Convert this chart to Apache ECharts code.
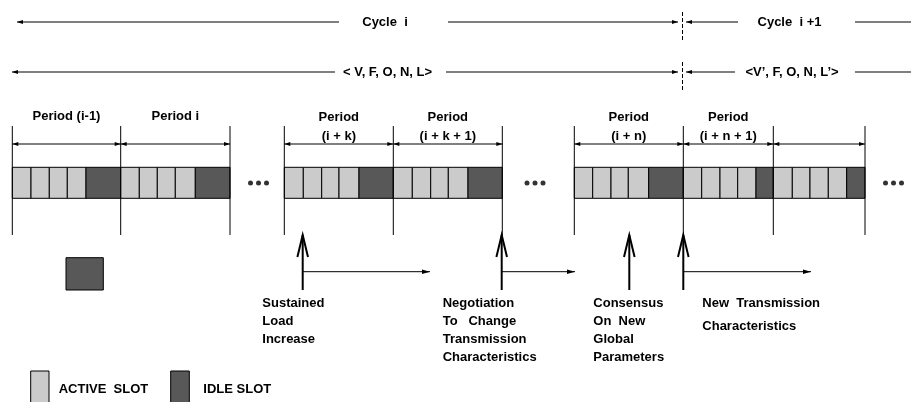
<!DOCTYPE html>
<html>
<head>
<meta charset="utf-8">
<script src="https://cdn.jsdelivr.net/npm/echarts@6/dist/echarts.min.js"></script>
<style>
  html, body { margin: 0; padding: 0; background: #fff; }
  #main { width: 911px; height: 402px; }
</style>
</head>
<body>
<div id="main"></div>
<script>
// slot edges per period: 4 active slots then 1 idle slot
const slotEdges = [
  [12.3, 31, 49.3, 67.3, 86, 120.7],
  [120.7, 139.3, 157.3, 175.3, 195.3, 230],
  [284.3, 303.3, 321.7, 339, 359, 393.3],
  [393.3, 412.3, 430.7, 448.3, 468, 502.3],
  [574.3, 592.7, 611, 628.3, 648.7, 683.3],
  [683.3, 701.7, 720, 737.7, 756, 773.3],
  [773.3, 792.3, 810, 828.3, 846.7, 865]
];
const periodLabels = ['Period (i-1)', 'Period i', 'Period\n(i + k)', 'Period\n(i + k + 1)',
  'Period\n(i + n)', 'Period\n(i + n + 1)', ''];
const ellipsisX = [258.5, 535, 893.5];
const cycleLabels = ['Cycle  i', 'Cycle  i +1'];
const paramLabels = ['< V, F, O, N, L>', '<V\u2019, F, O, N, L\u2019>'];
const eventX = [302.7, 501.7, 629.3, 683.3];
const eventEndX = [430, 575, null, 811];
const eventLabels = ['Sustained\nLoad\nIncrease', 'Negotiation\nTo   Change\nTransmission\nCharacteristics',
  'Consensus\nOn  New\nGlobal\nParameters', 'New  Transmission\nCharacteristics'];
const legendLabels = ['ACTIVE  SLOT', 'IDLE SLOT'];

// layout
const FONT = 'bold 13px "Liberation Sans", Arial, sans-serif';
const activeColor = '#cbcbcb';
const idleColor = '#585858';
const slotTop = 167.3, slotBottom = 198.3;
const periodArrowY = 144;
const boundTop = 126, boundBottom = 235;
const cycleX = 682.5;
// top rows: y, label centre x, segments [from, to, arrowAtEnd]
const topRows = [
  { y: 22, labels: [[385, cycleLabels[0]], [789.5, cycleLabels[1]]],
    segs: [[339, 17, 1], [448, 678, 1], [738, 686, 1], [855, 911, 0]] },
  { y: 72, labels: [[387.5, paramLabels[0]], [792, paramLabels[1]]],
    segs: [[335, 12, 1], [446, 678, 1], [735, 686, 1], [855, 911, 0]] }
];
const eventLabelLayout = [[262.3, 18], [442.7, 18], [593.3, 18], [702.3, 23.7]];

function head(tip, from, len, hw) {
  const dx = tip[0] - from[0], dy = tip[1] - from[1];
  const d = Math.sqrt(dx * dx + dy * dy) || 1;
  const ux = dx / d, uy = dy / d;
  const bx = tip[0] - ux * len, by = tip[1] - uy * len;
  return [tip, [bx - uy * hw, by + ux * hw], [bx + uy * hw, by - ux * hw]];
}
function arrowEls(a, b, atStart, atEnd, lw, len, hw) {
  const els = [{ type: 'line', shape: { x1: a[0], y1: a[1], x2: b[0], y2: b[1] },
    style: { stroke: '#000', lineWidth: lw } }];
  if (atEnd) els.push({ type: 'polygon', shape: { points: head(b, a, len, hw) }, style: { fill: '#000' } });
  if (atStart) els.push({ type: 'polygon', shape: { points: head(a, b, len, hw) }, style: { fill: '#000' } });
  return els;
}

const slotData = [];
const periodData = [];
const boundSet = [];
slotEdges.forEach(function (e, pi) {
  for (let k = 0; k < 5; k++) slotData.push([e[k], e[k + 1], k === 4 ? 1 : 0]);
  periodData.push([e[0], e[5], pi]);
  if (boundSet.indexOf(e[0]) < 0) boundSet.push(e[0]);
  if (boundSet.indexOf(e[5]) < 0) boundSet.push(e[5]);
});
const dotData = [];
ellipsisX.forEach(function (x) { [-8, 0, 8].forEach(function (o) { dotData.push([x + o, 183]); }); });

const chart = echarts.init(document.getElementById('main'));
chart.setOption({
  animation: false,
  grid: { left: 0, right: 0, top: 0, bottom: 0 },
  xAxis: { type: 'value', min: 0, max: 911, show: false },
  yAxis: { type: 'value', min: 0, max: 402, inverse: true, show: false },
  series: [
    {
      // slots
      type: 'custom', silent: true, clip: false,
      data: slotData,
      encode: { x: [0, 1] },
      renderItem: function (params, api) {
        const p0 = api.coord([api.value(0), slotTop]);
        const p1 = api.coord([api.value(1), slotBottom]);
        return { type: 'rect',
          shape: { x: p0[0], y: p0[1], width: p1[0] - p0[0], height: p1[1] - p0[1] },
          style: { fill: api.value(2) ? idleColor : activeColor, stroke: '#000', lineWidth: 1 } };
      }
    },
    {
      // period boundaries
      type: 'custom', silent: true, clip: false,
      data: boundSet.map(function (x) { return [x]; }),
      encode: { x: 0 },
      renderItem: function (params, api) {
        const a = api.coord([api.value(0), boundTop]);
        const b = api.coord([api.value(0), boundBottom]);
        return { type: 'line', shape: { x1: a[0], y1: a[1], x2: b[0], y2: b[1] },
          style: { stroke: '#000', lineWidth: 1 } };
      }
    },
    {
      // period arrows + labels
      type: 'custom', silent: true, clip: false,
      data: periodData,
      encode: { x: [0, 1] },
      renderItem: function (params, api) {
        const a = api.coord([api.value(0), periodArrowY]);
        const b = api.coord([api.value(1), periodArrowY]);
        const lab = periodLabels[api.value(2)];
        const two = lab.indexOf('\n') >= 0;
        const c = api.coord([(api.value(0) + api.value(1)) / 2, two ? 126.5 : 116.5]);
        const children = arrowEls(a, b, 1, 1, 1, 6, 2);
        children.push({ type: 'text', x: c[0], y: c[1],
          style: { text: lab, font: FONT, fill: '#000', align: 'center', verticalAlign: 'middle', lineHeight: 19 } });
        return { type: 'group', children: children };
      }
    },
    {
      // ellipsis dots
      type: 'scatter', silent: true,
      data: dotData, symbolSize: 5,
      itemStyle: { color: '#000' }
    },
    {
      // events
      type: 'custom', silent: true, clip: false,
      data: eventX.map(function (x, i) { return [x, eventEndX[i] == null ? x : eventEndX[i], i]; }),
      encode: { x: [0, 1] },
      renderItem: function (params, api) {
        const i = api.value(2);
        const base = api.coord([api.value(0), 290]);
        const tip = api.coord([api.value(0), 235]);
        const children = [
          { type: 'line', shape: { x1: base[0], y1: base[1], x2: tip[0], y2: tip[1] },
            style: { stroke: '#000', lineWidth: 2 } },
          { type: 'polyline', shape: { points: [[tip[0] - 5.3, tip[1] + 22], [tip[0], tip[1]], [tip[0] + 5.3, tip[1] + 22]] },
            style: { stroke: '#000', lineWidth: 2, fill: null } }
        ];
        if (eventEndX[i] != null) {
          const h0 = api.coord([api.value(0), 271.7]);
          const h1 = api.coord([api.value(1), 271.7]);
          arrowEls(h0, h1, 0, 1, 1, 8, 2.2).forEach(function (e) { children.push(e); });
        }
        const lay = eventLabelLayout[i];
        const t = api.coord([lay[0], 303 - lay[1] / 2]);
        children.push({ type: 'text', x: t[0], y: t[1],
          style: { text: eventLabels[i], font: FONT, fill: '#000', align: 'left', verticalAlign: 'top', lineHeight: lay[1] } });
        return { type: 'group', children: children };
      }
    },
    {
      // cycle / parameter rows
      type: 'custom', silent: true, clip: false,
      data: topRows.map(function (r, i) { return [0, r.y, i]; }),
      encode: { x: 0, y: 1 },
      renderItem: function (params, api) {
        const row = topRows[api.value(2)];
        const children = [];
        row.segs.forEach(function (s) {
          const a = api.coord([s[0], row.y]);
          const b = api.coord([s[1], row.y]);
          arrowEls(a, b, 0, s[2], 1.2, 6, 2).forEach(function (e) { children.push(e); });
        });
        row.labels.forEach(function (l) {
          const c = api.coord([l[0], row.y]);
          children.push({ type: 'text', x: c[0], y: c[1],
            style: { text: l[1], font: FONT, fill: '#000', align: 'center', verticalAlign: 'middle' } });
        });
        const d0 = api.coord([cycleX, row.y - 10]);
        const d1 = api.coord([cycleX, row.y + 18]);
        children.push({ type: 'line', shape: { x1: d0[0], y1: d0[1], x2: d1[0], y2: d1[1] },
          style: { stroke: '#000', lineWidth: 1, lineDash: [4, 2] } });
        return { type: 'group', children: children };
      }
    },
    {
      // legend + stray idle block
      type: 'custom', silent: true, clip: false,
      data: [[30.7, 49, 0], [170.7, 189.3, 1]],
      encode: { x: [0, 1] },
      renderItem: function (params, api) {
        const idle = api.value(2);
        const p0 = api.coord([api.value(0), 371]);
        const p1 = api.coord([api.value(1), 404]);
        const children = [
          { type: 'rect', shape: { x: p0[0], y: p0[1], width: p1[0] - p0[0], height: p1[1] - p0[1] },
            style: { fill: idle ? idleColor : activeColor, stroke: '#000', lineWidth: 1 } }
        ];
        const t = api.coord([idle ? 203.3 : 58.7, 389.3]);
        children.push({ type: 'text', x: t[0], y: t[1],
          style: { text: legendLabels[idle], font: FONT, fill: '#000', align: 'left', verticalAlign: 'middle' } });
        if (idle) {
          const q0 = api.coord([66, 257.7]);
          const q1 = api.coord([103.3, 290]);
          children.push({ type: 'rect', shape: { x: q0[0], y: q0[1], width: q1[0] - q0[0], height: q1[1] - q0[1] },
            style: { fill: idleColor, stroke: '#000', lineWidth: 1 } });
        }
        return { type: 'group', children: children };
      }
    }
  ]
});
</script>
</body>
</html>
